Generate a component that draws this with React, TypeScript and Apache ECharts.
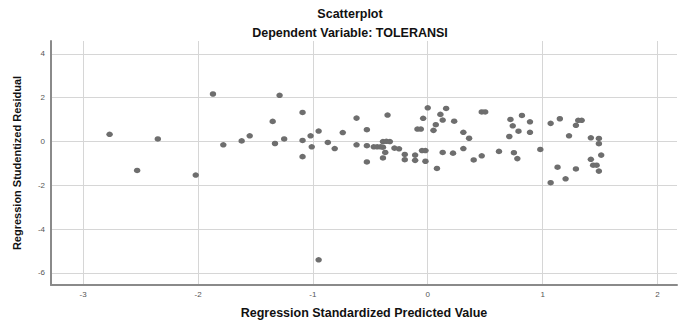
import React, { useEffect, useRef } from "react";
import * as echarts from "echarts";

const predicted: number[] = [
  -2.77, -2.53, -2.35, -2.02, -1.87, -1.78, -1.62, -1.55, -1.35, -1.33,
  -1.29, -1.25, -1.09, -1.09, -1.09, -1.02, -1.01, -0.95, -0.95, -0.87,
  -0.81, -0.74, -0.62, -0.62, -0.53, -0.53, -0.53, -0.47, -0.44, -0.41,
  -0.39, -0.39, -0.36, -0.33, -0.35, -0.37, -0.39, -0.29, -0.25, -0.2,
  -0.2, -0.11, -0.11, -0.05, -0.02, -0.02, 0.0, -0.09, -0.06, -0.04,
  0.05, 0.07, 0.11, 0.13, 0.16, 0.08, 0.13, 0.22, 0.23, 0.31,
  0.36, 0.31, 0.4, 0.47, 0.47, 0.5, 0.62, 0.72, 0.82, 0.74,
  0.89, 0.79, 0.89, 0.71, 0.75, 0.78, 0.98, 1.07, 1.15, 1.07,
  1.13, 1.2, 1.23, 1.29, 1.31, 1.34, 1.29, 1.42, 1.49, 1.49,
  1.42, 1.51, 1.44, 1.47, 1.49,
];

const residual: number[] = [
  0.33, -1.32, 0.12, -1.53, 2.17, -0.15, 0.03, 0.26, 0.92, -0.09,
  2.11, 0.12, 1.33, 0.05, -0.69, 0.26, -0.24, 0.48, -5.4, -0.04,
  -0.32, 0.41, 1.07, -0.15, 0.54, -0.19, -0.93, -0.24, -0.24, -0.24,
  -0.26, 0.0, 0.01, 0.0, 1.21, -0.5, -0.75, -0.3, -0.33, -0.59,
  -0.83, -0.62, -0.86, -0.41, -0.41, -0.9, 1.54, 0.57, 0.57, 1.06,
  0.51, 0.77, 1.24, 0.98, 1.51, -1.23, -0.5, -0.53, 0.93, 0.42,
  0.15, -0.32, -0.84, -0.65, 1.35, 1.35, -0.45, 1.01, 1.19, 0.72,
  0.9, 0.47, 0.42, 0.23, -0.51, -0.78, -0.36, 0.83, 1.04, -1.88,
  -1.17, -1.7, 0.26, 0.74, 0.97, 0.97, -1.25, 0.17, 0.14, -0.1,
  -0.81, -0.62, -1.08, -1.08, -1.35,
];

const xTicks: number[] = [-3, -2, -1, 0, 1, 2];
const yTicks: number[] = [-6, -4, -2, 0, 2, 4];

const titleText = "Scatterplot";
const subtitleText = "Dependent Variable: TOLERANSI";
const xTitle = "Regression Standardized Predicted Value";
const yTitle = "Regression Studentized Residual";

const FONT = 'Arial, "Liberation Sans", Helvetica, sans-serif';

export default function App() {
  const ref = useRef<HTMLDivElement>(null);

  useEffect(() => {
    document.body.style.margin = "0";
    if (!ref.current) return;
    const chart = echarts.init(ref.current, null, { renderer: "svg" });
    const points = predicted.map((x, i) => [x, residual[i]]);

    chart.setOption({
      animation: false,
      backgroundColor: "#ffffff",
      textStyle: { fontFamily: FONT },
      graphic: [
        {
          type: "text",
          x: 350,
          y: 14,
          style: {
            text: titleText,
            fontFamily: FONT,
            fontSize: 12.5,
            fontWeight: "bold",
            fill: "#111",
            align: "center",
            verticalAlign: "middle",
          },
        },
        {
          type: "text",
          x: 350,
          y: 33,
          style: {
            text: subtitleText,
            fontFamily: FONT,
            fontSize: 12.5,
            fontWeight: "bold",
            fill: "#111",
            align: "center",
            verticalAlign: "middle",
          },
        },
      ],
      grid: { left: 51, top: 41, right: 1, bottom: 36, containLabel: false },
      xAxis: {
        type: "value",
        min: -3.28,
        max: 2.17,
        name: xTitle,
        nameLocation: "middle",
        nameGap: 21,
        nameTextStyle: { fontFamily: FONT, fontSize: 12.5, fontWeight: "bold", color: "#111" },
        axisLine: { show: true, onZero: false, lineStyle: { color: "#8a8a8a", width: 2 } },
        axisTick: { show: false, customValues: xTicks },
        axisLabel: { customValues: xTicks, fontSize: 8, color: "#555", margin: 5, fontFamily: FONT },
        splitLine: { show: true, lineStyle: { color: "#d6d6d6", width: 1 } },
      },
      yAxis: {
        type: "value",
        min: -6.55,
        max: 4.59,
        name: yTitle,
        nameLocation: "middle",
        nameGap: 29,
        nameRotate: 90,
        nameTextStyle: { fontFamily: FONT, fontSize: 11, fontWeight: "bold", color: "#111" },
        axisLine: { show: true, onZero: false, lineStyle: { color: "#8a8a8a", width: 2 } },
        axisTick: { show: false, customValues: yTicks },
        axisLabel: { customValues: yTicks, fontSize: 8, color: "#555", margin: 6, fontFamily: FONT },
        splitLine: { show: true, lineStyle: { color: "#d6d6d6", width: 1 } },
      },
      series: [
        {
          type: "scatter",
          data: points,
          symbol: "circle",
          symbolSize: [6.5, 5.5],
          itemStyle: { color: "#6e6e6e", opacity: 1 },
        },
      ],
    });

    return () => chart.dispose();
  }, []);

  return <div ref={ref} style={{ width: 678, height: 324 }} />;
}
